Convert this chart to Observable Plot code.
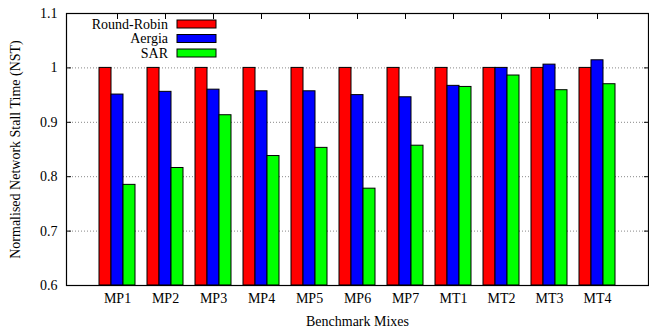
<!DOCTYPE html>
<html><head><meta charset="utf-8">
<script src="https://cdn.jsdelivr.net/npm/d3@7"></script>
<script src="https://cdn.jsdelivr.net/npm/@observablehq/plot@0.6"></script>
<style>body{margin:0;background:#fff}#chart{position:relative;width:649px;height:329px}</style>
</head><body><div id="chart"></div>
<script>
const mixes = ["MP1","MP2","MP3","MP4","MP5","MP6","MP7","MT1","MT2","MT3","MT4"];
const seriesNames = ["Round-Robin","Aergia","SAR"];
const seriesColors = ["#ff0000","#0000ff","#00ff00"];
const roundRobin = [1,1,1,1,1,1,1,1,1,1,1];
const aergia = [0.951,0.956,0.960,0.957,0.957,0.950,0.946,0.967,1.000,1.006,1.014];
const sar = [0.785,0.816,0.913,0.838,0.853,0.778,0.857,0.965,0.986,0.959,0.970];
const yTicks = [0.6,0.7,0.8,0.9,1,1.1];
const gridTicks = [0.7,0.8,0.9,1];

const seriesValues = [roundRobin, aergia, sar];
const font = "'Liberation Serif', 'Times New Roman', serif";

const barMarks = seriesValues.map((vals, i) =>
  Plot.barY(mixes.map((m, j) => ({mix: m, value: vals[j]})), {
    x: "mix", y1: 0.6, y2: "value",
    fill: seriesColors[i], stroke: "black", strokeWidth: 1,
    insetLeft: 12, insetRight: 12, dx: (i - 1) * 12
  })
);

const chart = Plot.plot({
  width: 649, height: 329,
  marginLeft: 66, marginRight: 1, marginTop: 13, marginBottom: 44,
  style: {fontFamily: font, fontSize: "14px", background: "white", color: "black"},
  x: {domain: mixes, paddingInner: 0.258, paddingOuter: 0.629},
  y: {domain: [0.6, 1.1]},
  marks: [
    Plot.gridY(gridTicks, {stroke: "#888", strokeOpacity: 1, strokeDasharray: "1,2"}),
    ...barMarks,
    Plot.frame({stroke: "black", strokeWidth: 1.2}),
    Plot.axisY(yTicks, {tickSize: 0, tickPadding: 9, tickFormat: d => String(d), fontSize: 14,
      label: "Normalised Network Stall Time (NST)", labelAnchor: "center", labelArrow: "none", labelOffset: 56}),
    Plot.axisY(yTicks, {tickSize: -5, text: null, label: null}),
    Plot.axisY(yTicks, {anchor: "right", tickSize: -5, text: null, label: null}),
    Plot.axisX({anchor: "top", tickSize: -5, text: null, label: null}),
    Plot.axisX({anchor: "bottom", tickSize: 0, tickPadding: 8, fontSize: 14,
      label: "Benchmark Mixes", labelAnchor: "center", labelArrow: "none", labelOffset: 40})
  ]
});
document.getElementById("chart").appendChild(chart);

// legend inside the plot
const svg = d3.select(chart);
const lg = svg.append("g").attr("font-family", font).attr("font-size", 14);
seriesNames.forEach((name, i) => {
  const cy = 24 + i * 14.5;
  lg.append("text").attr("x", 168).attr("y", cy).attr("dy", "0.35em")
    .attr("text-anchor", "end").attr("fill", "black").text(name);
  lg.append("rect").attr("x", 177).attr("y", cy - 4).attr("width", 39).attr("height", 8)
    .attr("fill", seriesColors[i]).attr("stroke", "black").attr("stroke-width", 1);
});
</script></body></html>
